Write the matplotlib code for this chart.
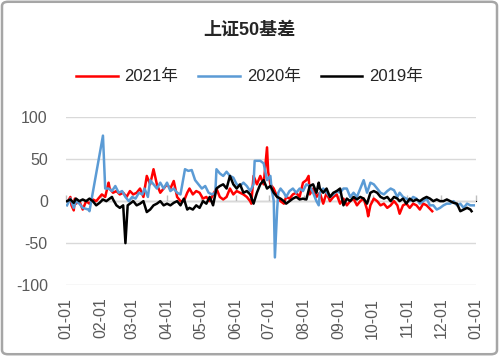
import matplotlib
matplotlib.use('Agg')
import matplotlib.pyplot as plt
from matplotlib.patches import FancyBboxPatch

plt.rcParams['font.family'] = ['Liberation Sans', 'Noto Sans CJK SC']
plt.rcParams['axes.unicode_minus'] = False

# x = days since 01-01 of each year, y = basis
days_2021 = [2, 4, 5, 7, 8, 9, 12, 15, 18, 21, 24, 27, 32, 35, 38, 39, 42, 45, 48, 51,
             54, 57, 60, 63, 66, 69, 72, 75, 78, 81, 84, 87, 90, 93, 96, 99, 102, 105, 108, 110,
             113, 116, 119, 122, 125, 128, 131, 134, 137, 140, 143, 146, 149, 152, 155, 158, 161, 164, 165, 167,
             170, 173, 176, 179, 180, 182, 185, 188, 191, 194, 196, 199, 202, 205, 208, 211, 214, 216, 217, 220,
             223, 226, 229, 232, 235, 238, 241, 244, 247, 250, 253, 256, 259, 262, 265, 268, 269, 271, 274, 277,
             280, 283, 286, 289, 292, 295, 297, 300, 303, 306, 309, 312, 315, 318, 321, 326]
vals_2021 = [0, 5, -5, -11, 3, -3, 0, -10, 0, -3, 2, 0, 8, 5, 22, 15, 10, 12, 8, 10,
             5, 12, 8, 10, 15, 5, 30, 20, 38, 20, 10, 15, 20, 15, 24, 5, 0, 0, 10, 15,
             8, 12, 10, 3, 5, 0, 8, 15, 5, 2, 5, 15, 8, 12, 10, 8, 5, 0, -3, 30,
             20, 30, 20, 64, 35, 20, 15, 5, 0, -3, 5, 3, 8, 10, 5, 22, 25, 30, 8, 15,
             5, 10, -3, 10, 0, 5, 8, -3, 3, -5, 0, 3, -5, 0, 3, -10, -18, -5, 3, 0,
             -5, -3, -8, -5, 0, -5, -15, -5, -3, -8, -3, -5, -10, -3, -5, -12]

days_2020 = [1, 4, 7, 9, 12, 15, 20, 21, 33, 35, 38, 41, 44, 47, 50, 53, 56, 59, 62, 65,
             68, 70, 73, 75, 78, 81, 84, 87, 90, 93, 96, 99, 102, 106, 109, 112, 115, 118, 121, 124,
             127, 130, 133, 134, 137, 140, 143, 146, 149, 152, 155, 158, 161, 164, 167, 168, 173, 176, 179, 182,
             183, 185, 186, 188, 189, 191, 194, 196, 199, 202, 205, 208, 211, 214, 217, 220, 223, 225, 226, 229,
             232, 235, 238, 241, 244, 247, 250, 253, 256, 259, 262, 265, 268, 271, 274, 277, 280, 283, 286, 289,
             292, 295, 297, 300, 303, 306, 309, 312, 315, 318, 321, 324, 327, 330, 333, 336, 339, 342, 345, 348,
             351, 354, 357, 360, 363]
vals_2020 = [-5, 3, -8, 0, -3, -8, -10, -12, 78, 15, 15, 12, 18, 10, 12, 5, 0, 5, 3, 10,
             8, 15, 5, 25, 20, 15, 22, 15, 22, 12, 15, 10, 8, 38, 36, 37, 25, 20, 15, 18,
             10, 8, 10, 38, 33, 30, 35, 30, 28, 20, 18, 22, 18, 12, 20, 48, 48, 45, 25, 30,
             15, 0, -67, -10, 10, 15, 10, 5, 12, 15, 10, 15, 12, 20, 18, 10, 0, -5, 10, 15,
             10, 5, 8, 12, 10, 15, 15, 5, 10, 5, 15, 25, 10, 22, 20, 15, 10, 8, 12, 15,
             13, 5, 10, 5, 3, 0, 5, 3, -3, 0, 3, -5, -5, -10, -8, -5, -3, -3, 0, -5,
             -3, -8, -3, -5, -5]

days_2019 = [1, 4, 7, 9, 12, 15, 18, 21, 24, 27, 30, 33, 36, 41, 42, 45, 48, 51, 53, 55,
             57, 60, 63, 66, 69, 72, 75, 78, 81, 84, 87, 90, 93, 96, 99, 102, 105, 108, 110, 113,
             116, 119, 122, 125, 128, 131, 134, 137, 140, 143, 146, 149, 152, 155, 158, 161, 164, 167, 170, 173,
             176, 179, 182, 185, 188, 191, 194, 196, 199, 202, 205, 208, 211, 214, 217, 220, 223, 225, 226, 229,
             232, 235, 238, 241, 244, 247, 250, 253, 256, 259, 262, 265, 268, 271, 274, 277, 280, 283, 286, 289,
             292, 295, 297, 300, 303, 306, 309, 312, 315, 318, 321, 324, 327, 330, 333, 336, 339, 342, 345, 348,
             351, 354, 357, 360, 361]
vals_2019 = [0, 2, -2, 3, 0, 2, 0, 3, 0, -5, -2, 2, 0, 5, 2, -5, -8, -5, -50, -5,
             -3, 0, -5, -3, 0, -13, -10, -5, -3, 0, -5, -3, -5, -2, 0, -5, 3, -10, -8, -10,
             -5, -8, 0, -3, 5, -5, 15, 18, 20, 15, 30, 20, 15, 20, 10, 12, 8, -3, 10, 20,
             25, 15, 18, 10, 5, 3, 0, -3, 0, 3, 5, 2, 3, 2, 18, 20, 10, 22, 15, 10,
             15, 5, 10, 12, 15, -5, 3, 0, 5, 2, 5, 3, -3, 10, 12, 10, 5, 3, 5, 0,
             5, 3, 0, 3, -3, 3, 0, 2, 0, 3, 5, 3, 0, 2, 0, 0, 2, 0, -2, -3,
             -12, -10, -8, -10, -12]

month_days = [0, 31, 59, 90, 120, 151, 181, 212, 243, 273, 304, 334, 365]
month_labels = ['01-01', '02-01', '03-01', '04-01', '05-01', '06-01', '07-01',
                '08-01', '09-01', '10-01', '11-01', '12-01', '01-01']

fig = plt.figure(figsize=(4.99, 3.56), dpi=100)
ax = fig.add_axes([0.132, 0.199, 0.822, 0.472])

ax.plot(days_2021, vals_2021, color='#FF0000', lw=1.8, label='2021年')
ax.plot(days_2020, vals_2020, color='#5B9BD5', lw=1.8, label='2020年')
ax.plot(days_2019, vals_2019, color='#000000', lw=1.8, label='2019年')

ax.set_xlim(0, 365)
ax.set_ylim(-100, 100)
ax.set_yticks([-100, -50, 0, 50, 100])
ax.grid(axis='y', color='#D9D9D9', lw=1)
ax.set_axisbelow(True)
for s in ax.spines.values():
    s.set_visible(False)
ax.tick_params(axis='y', length=0, pad=13, labelsize=11.5, labelcolor='#595959')
ax.set_xticks(month_days)
ax.set_xticklabels(month_labels, rotation=90)
ax.tick_params(axis='x', length=0, pad=9, labelsize=11.5, labelcolor='#595959')

# axis line with ticks at y = 0
sec = ax.secondary_xaxis(0.5)
sec.set_xticks(month_days)
sec.set_xticklabels([])
sec.tick_params(axis='x', direction='out', length=4, color='#BFBFBF', width=1)
sec.spines['bottom'].set_color('#BFBFBF')
sec.spines['bottom'].set_linewidth(1)

fig.text(0.5, 0.915, '上证50基差', ha='center', va='center', fontsize=13,
         fontweight='bold', color='#262626')
fig.legend(loc='center', bbox_to_anchor=(0.5, 0.784), ncol=3, frameon=False,
           fontsize=12, handlelength=2.5, handletextpad=0.4, columnspacing=1.2,
           labelcolor='#262626')

border = FancyBboxPatch((0.004, 0.005), 0.992, 0.99, boxstyle='round,pad=0,rounding_size=0.012',
                        transform=fig.transFigure, fill=False, edgecolor='#A6A6A6', lw=1.8)
fig.patches.append(border)

fig.savefig('out.png', dpi=100)
